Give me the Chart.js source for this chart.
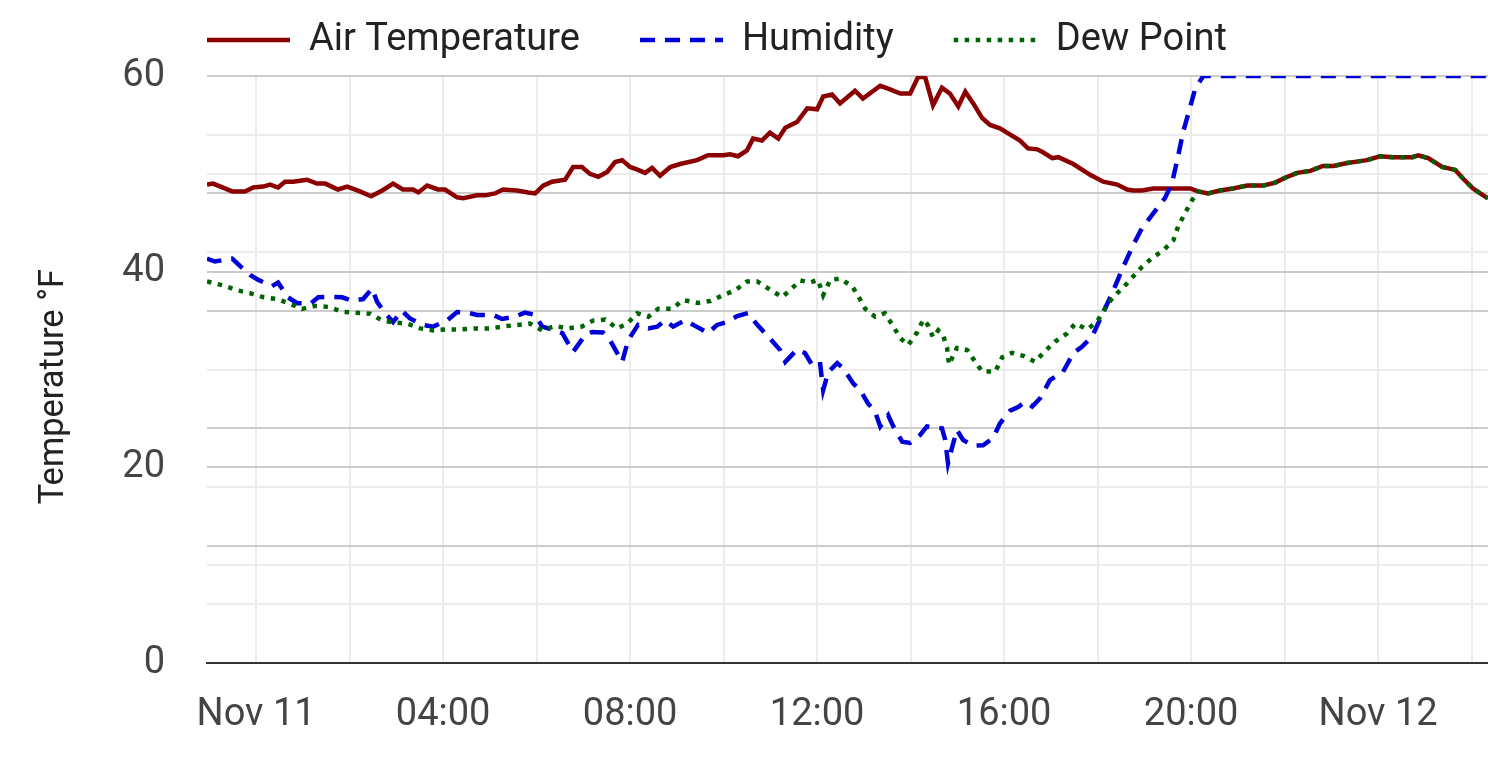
<!DOCTYPE html>
<html>
<head>
<meta charset="utf-8">
<script src="https://cdn.jsdelivr.net/npm/chart.js@4.4.1/dist/chart.umd.min.js"></script>
<style>
  html, body { margin: 0; padding: 0; background: #ffffff; }
  #wrap { width: 1488px; height: 775px; }
</style>
</head>
<body>
<div id="wrap"><canvas id="c" width="1488" height="775"></canvas></div>
<script>
// ---- Data (hours from Nov 11 00:00) ----
const seriesNames = ['Air Temperature', 'Humidity', 'Dew Point'];

const tempHours = [-1.05,-0.92,-0.51,-0.24,-0.06,0.15,0.30,0.47,0.62,0.79,
  1.09,1.30,1.48,1.75,1.95,2.22,2.46,2.70,2.93,3.14,
  3.36,3.47,3.66,3.89,4.04,4.30,4.43,4.73,4.90,5.11,
  5.28,5.58,5.82,5.97,6.14,6.33,6.61,6.78,6.97,7.14,
  7.32,7.51,7.68,7.83,8.00,8.17,8.32,8.47,8.64,8.86,
  9.07,9.43,9.67,9.99,10.14,10.31,10.50,10.63,10.82,10.99,
  11.17,11.32,11.57,11.79,12.00,12.13,12.32,12.49,12.81,12.98,
  13.35,13.52,13.78,13.99,14.16,14.31,14.48,14.67,14.84,15.02,
  15.17,15.34,15.53,15.70,15.91,16.13,16.34,16.51,16.71,16.83,
  17.03,17.16,17.48,17.84,18.12,18.42,18.63,18.76,18.95,19.19,
  19.49,19.98,20.15,20.36,20.62,20.90,21.20,21.54,21.80,22.01,
  22.27,22.55,22.82,23.04,23.34,23.62,23.76,24.04,24.32,24.73,
  24.86,25.07,25.37,25.65,25.80,26.03,26.25,26.35];
const tempValues = [48.9,49.0,48.2,48.2,48.6,48.7,48.9,48.6,49.2,49.2,
  49.4,49.0,49.0,48.4,48.7,48.2,47.7,48.3,49.0,48.4,
  48.4,48.1,48.8,48.4,48.4,47.6,47.5,47.8,47.8,48.0,
  48.4,48.3,48.1,48.0,48.8,49.2,49.4,50.7,50.7,50.0,
  49.7,50.2,51.2,51.4,50.7,50.4,50.1,50.6,49.8,50.7,
  51.0,51.4,51.9,51.9,52.0,51.8,52.4,53.6,53.4,54.2,
  53.6,54.7,55.3,56.7,56.6,57.9,58.1,57.2,58.5,57.7,
  59.0,58.7,58.2,58.2,59.9,59.9,57.0,58.8,58.2,56.9,
  58.4,57.2,55.7,55.0,54.65,54.0,53.4,52.6,52.5,52.2,
  51.6,51.7,51.0,49.9,49.2,48.9,48.4,48.3,48.3,48.5,
  48.5,48.5,48.2,48.0,48.3,48.5,48.8,48.8,49.1,49.6,
  50.1,50.3,50.8,50.8,51.1,51.3,51.4,51.8,51.7,51.7,
  51.9,51.6,50.7,50.4,49.6,48.5,47.8,47.5];

const humHours = [-1.05,-0.88,-0.51,-0.34,-0.13,0.04,0.34,0.47,0.68,0.88,
  1.16,1.33,1.58,1.84,2.05,2.29,2.48,2.59,2.76,2.93,
  3.12,3.29,3.57,3.79,4.09,4.30,4.51,4.73,5.07,5.26,
  5.54,5.75,5.97,6.12,6.35,6.55,6.78,7.04,7.19,7.42,
  7.57,7.83,7.96,8.17,8.39,8.58,8.75,8.92,9.18,9.35,
  9.67,9.86,10.07,10.29,10.52,10.72,10.99,11.21,11.32,11.57,
  11.74,11.89,12.06,12.13,12.24,12.43,12.56,12.77,12.92,13.09,
  13.24,13.35,13.52,13.63,13.82,13.99,14.20,14.35,14.67,14.74,
  14.80,14.89,14.99,15.12,15.34,15.55,15.76,15.91,16.13,16.30,
  16.45,16.60,16.77,16.98,17.26,17.48,17.67,17.88,18.05,18.31,
  18.55,18.76,18.95,19.19,19.44,19.59,19.72,19.83,19.94,20.09,
  20.26,21,22,23,24,25,26,26.35];
const humValues = [68.9,68.4,68.9,67.6,66.1,65.3,64.2,64.8,62.3,61.3,
  61.2,62.3,62.4,62.3,61.7,62.0,63.8,61.5,59.6,58.1,
  60.0,58.7,57.6,57.3,58.4,59.8,59.7,59.3,59.3,58.6,
  59.0,59.7,59.3,57.3,56.8,56.2,53.0,55.9,56.4,56.3,
  55.0,51.3,55.0,57.6,57.0,57.3,58.4,57.3,58.4,57.6,
  56.2,57.6,58.1,59.1,59.6,57.6,55.3,53.3,51.3,53.4,
  52.8,50.8,51.3,46.5,49.6,51.1,50.2,47.65,46.5,44.2,
  42.8,40.3,42.2,40.3,37.7,37.5,38.8,40.3,40.0,38.0,
  34.0,36.8,39.7,38.0,37.0,37.1,38.3,40.8,43.0,43.6,
  44.5,43.7,45.1,48.2,49.6,52.8,53.9,55.6,58.5,63.0,
  67.5,71.2,74.1,76.6,79.2,81.7,86.3,90.5,93.6,97.9,
  100,100,100,100,100,100,100,100];

const dewHours = [-1.05,-0.71,-0.41,-0.13,0.15,0.45,0.73,0.98,1.26,1.54,
  1.84,2.12,2.44,2.70,2.97,3.25,3.51,3.79,4.09,4.41,
  4.68,5.01,5.28,5.58,5.86,6.12,6.40,6.67,6.97,7.21,
  7.47,7.72,7.94,8.15,8.39,8.60,8.90,9.13,9.45,9.71,
  9.99,10.25,10.50,10.72,10.95,11.25,11.42,11.64,11.85,12.02,
  12.13,12.28,12.49,12.75,12.88,13.03,13.24,13.45,13.63,13.78,
  13.95,14.14,14.27,14.37,14.48,14.59,14.70,14.78,14.82,14.99,
  15.21,15.38,15.53,15.81,15.96,16.17,16.41,16.66,16.88,17.09,
  17.35,17.52,17.78,17.99,18.16,18.33,18.55,18.76,18.95,19.19,
  19.40,19.62,19.72,19.87,20.02,20.15,
  20.36,20.62,20.90,21.20,21.54,21.80,22.01,
  22.27,22.55,22.82,23.04,23.34,23.62,23.76,24.04,24.32,24.73,
  24.86,25.07,25.37,25.65,25.80,26.03,26.25,26.35];
const dewValues = [39.0,38.6,38.1,37.8,37.4,37.2,36.7,36.2,36.5,36.4,
  35.9,35.8,35.7,35.0,34.8,34.65,34.2,34.0,34.1,34.1,
  34.2,34.2,34.4,34.55,34.7,34.0,34.45,34.2,34.4,35.0,
  35.1,34.2,34.7,35.75,35.4,36.2,36.2,37.1,36.8,37.0,
  37.6,38.1,39.0,39.0,38.3,37.4,38.1,39.1,38.9,39.15,
  37.6,39.15,39.3,38.5,37.5,36.2,35.4,35.75,34.4,33.2,
  32.5,33.8,35.1,34.55,33.3,34.0,33.4,32.2,30.5,32.2,
  32.0,30.8,29.8,29.8,31.25,31.7,31.4,30.8,31.9,32.85,
  33.7,34.7,34.1,34.9,36.25,37.4,38.4,39.5,40.5,41.5,
  42.15,43.2,44.6,46.0,47.3,48.2,
  48.0,48.3,48.5,48.8,48.8,49.1,49.6,
  50.1,50.3,50.8,50.8,51.1,51.3,51.4,51.8,51.7,51.7,
  51.9,51.6,50.7,50.4,49.6,48.5,47.8,47.5];

// axis ticks
const xTickHours = [0,2,4,6,8,10,12,14,16,18,20,22,24,26];
const xLabelEvery = 4;
const dayLabels = {0: 'Nov 11', 24: 'Nov 12'};
const yTickValues = [0,6,10,12,18,20,24,30,36,40,42,48,50,54,60];
const yLabelValues = [0,20,40,60];
const yStrongGrid = [12,20,24,36,40,48,60];

const pts = (xs, ys) => xs.map((x, i) => ({x: x, y: ys[i]}));

const FONT = 'Roboto';

const legendPlacer = {
  id: 'legendPlacer',
  afterLayout(chart) {
    const lg = chart.legend;
    if (!lg) return;
    const pad = lg.options.labels.padding;
    const dx = chart.chartArea.left - pad - lg.left;
    lg.left += dx; lg.right += dx;
    lg.top -= 7; lg.bottom -= 7;
  }
};

new Chart(document.getElementById('c'), {
  type: 'line',
  data: {
    datasets: [
      {
        label: seriesNames[0],
        data: pts(tempHours, tempValues),
        borderColor: '#8b0000',
        borderWidth: 4.5,
        pointRadius: 0,
        tension: 0,
        yAxisID: 'y',
        order: 3
      },
      {
        label: seriesNames[1],
        data: pts(humHours, humValues),
        borderColor: '#0000d8',
        borderWidth: 4.5,
        borderDash: [15, 10],
        pointRadius: 0,
        tension: 0,
        yAxisID: 'yH',
        order: 2
      },
      {
        label: seriesNames[2],
        data: pts(dewHours, dewValues),
        borderColor: '#006400',
        borderWidth: 4.5,
        borderDash: [4.5, 6.5],
        pointRadius: 0,
        tension: 0,
        yAxisID: 'y',
        order: 1
      }
    ]
  },
  plugins: [legendPlacer],
  options: {
    responsive: false,
    animation: false,
    devicePixelRatio: 1,
    layout: { padding: { top: -32, left: 0, right: 0, bottom: 0 } },
    plugins: {
      tooltip: { enabled: false },
      legend: {
        display: true,
        position: 'top',
        align: 'start',
        labels: {
          usePointStyle: true,
          pointStyle: 'line',
          pointStyleWidth: 83,
          padding: 60,
          color: '#222222',
          font: { family: FONT, size: 38 },
          sort: (a, b) => a.datasetIndex - b.datasetIndex,
          generateLabels: (chart) => {
            const items = Chart.defaults.plugins.legend.labels.generateLabels(chart);
            items.forEach(it => {
              const ds = chart.data.datasets[it.datasetIndex];
              it.lineDash = ds.borderDash || [];
              it.lineWidth = ds.borderWidth;
              it.strokeStyle = ds.borderColor;
              it.lineCap = 'butt';
              it.pointStyle = 'line';
            });
            return items;
          }
        }
      }
    },
    scales: {
      x: {
        type: 'linear',
        min: -1.05,
        max: 26.35,
        afterBuildTicks: (s) => { s.ticks = xTickHours.map(v => ({value: v})); },
        afterFit: (s) => { s.height = 112; s.paddingLeft = 0; s.paddingRight = 0; },
        grid: { color: '#ececec', lineWidth: 2, drawTicks: false },
        border: { display: true, color: '#333333', width: 2 },
        ticks: {
          autoSkip: false,
          maxRotation: 0,
          padding: 30,
          color: '#444444',
          font: { family: FONT, size: 38 },
          callback: (v) => {
            if (v % xLabelEvery !== 0) return '';
            if (dayLabels[v] !== undefined) return dayLabels[v];
            return String(v).padStart(2, '0') + ':00';
          }
        }
      },
      y: {
        type: 'linear',
        position: 'left',
        min: 0,
        max: 60,
        afterBuildTicks: (s) => { s.ticks = yTickValues.map(v => ({value: v})); },
        afterFit: (s) => { s.width = 207; },
        grid: {
          lineWidth: 2,
          drawTicks: false,
          color: (ctx) => yStrongGrid.includes(ctx.tick && ctx.tick.value) ? '#cccccc' : '#ececec'
        },
        border: { display: false },
        ticks: {
          autoSkip: false,
          padding: 42,
          color: '#444444',
          font: { family: FONT, size: 38 },
          callback: (v) => yLabelValues.includes(v) ? String(v) : ''
        },
        title: {
          display: true,
          text: 'Temperature °F    ',
          color: '#222222',
          font: { family: FONT, size: 34.5 },
          padding: { top: 34, bottom: 0 }
        }
      },
      yH: {
        type: 'linear',
        position: 'right',
        min: 0,
        max: 100,
        display: false
      }
    }
  }
});
</script>
</body>
</html>
